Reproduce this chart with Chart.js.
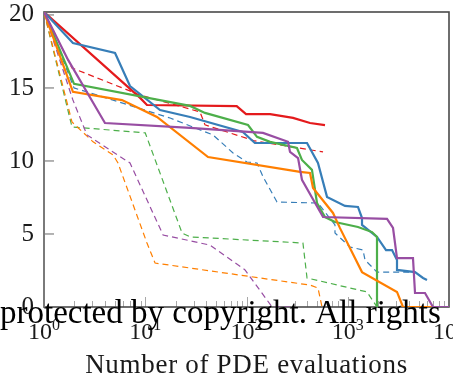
<!DOCTYPE html>
<html>
<head>
<meta charset="utf-8">
<script src="https://cdn.jsdelivr.net/npm/chart.js@4"></script>
<style>
  html, body { margin: 0; padding: 0; background: #fff; overflow: hidden; }
  canvas { display: block; }
</style>
</head>
<body>
<canvas id="c" width="453" height="376"></canvas>
<script>
// Objective value versus number of PDE evaluations (log x axis)
const yTickValues = [0, 5, 10, 15, 20];
const yTop = 20.2;
const xDecades = [1, 10, 100, 1000, 10000];
const xTitle = 'Number of PDE evaluations';
const caption = 'protected by copyright. All rights';

// solid runs
const redSolidX = [1, 8.9, 10.4, 80, 99, 171, 288, 424, 596];
const redSolidY = [20.2, 14.32, 13.83, 13.76, 13.21, 13.21, 12.95, 12.6, 12.45];

const blueSolidX = [1, 1.93, 5.03, 7.07, 14.0, 27.7, 92, 121, 396, 508, 624, 939, 1262, 1383, 1383, 1945, 2388, 2737, 3065, 3065, 4617, 5536, 6063];
const blueSolidY = [20.2, 18.08, 17.39, 15.13, 13.49, 13.01, 11.98, 11.23, 11.23, 9.86, 7.54, 6.92, 6.85, 6.09, 5.62, 4.80, 3.90, 3.90, 3.22, 2.54, 2.39, 1.99, 1.85];

const greenSolidX = [1, 1.98, 27.7, 38.9, 103.5, 127, 171, 315, 353, 443, 497, 596, 748, 1262, 1738, 1945, 1945];
const greenSolidY = [20.2, 15.28, 13.77, 13.29, 12.46, 11.65, 11.31, 10.89, 10.07, 9.39, 7.12, 6.16, 5.82, 5.48, 5.13, 4.79, 0];

const orangeSolidX = [1, 1.93, 5.89, 13.06, 41.7, 338, 424, 454, 715, 838, 1383, 3065, 3513, 6790];
const orangeSolidY = [20.2, 14.73, 14.17, 13.01, 10.27, 9.25, 9.18, 8.15, 6.44, 5.40, 2.39, 1.03, 0, 0];

const purpleSolidX = [1, 1.73, 4.0, 27.7, 145.5, 257, 269, 323, 353, 570, 2443, 2800, 3065, 4409, 4617, 5794, 6950, 10000];
const purpleSolidY = [20.2, 16.92, 12.60, 12.27, 11.92, 11.31, 10.62, 10.20, 8.71, 6.16, 6.03, 5.41, 3.35, 3.35, 0.96, 0.96, 0, 0];

// dashed runs
const redDashedX = [1, 1.89, 8.87, 34.7, 38.9, 121, 570];
const redDashedY = [20.2, 16.37, 14.52, 13.36, 12.47, 11.37, 10.62];

const blueDashedX = [1, 1.98, 2.85, 17.6, 46.7, 73.6, 101, 127, 146, 200, 508, 748, 748, 1052, 1415, 1480, 1945, 4121];
const blueDashedY = [20.2, 15.00, 14.66, 12.94, 11.78, 10.55, 9.93, 9.86, 8.90, 7.19, 7.12, 5.62, 5.07, 4.11, 3.90, 3.22, 2.39, 2.39];

const greenDashedX = [1, 1.89, 10, 23.1, 27.7, 361, 396, 1549, 1945];
const greenDashedY = [20.2, 12.33, 11.92, 5.07, 4.80, 4.38, 1.99, 1.03, 0];

const orangeDashedX = [1, 1.89, 3.05, 4.80, 5.38, 10.4, 12.5, 424, 508, 557];
const orangeDashedY = [20.2, 12.67, 11.31, 10.42, 9.86, 4.38, 3.01, 1.50, 1.30, 0];

const purpleDashedX = [1, 1.93, 2.66, 7.07, 15.0, 43.6, 96.7, 179, 269];
const purpleDashedY = [20.2, 14.17, 11.78, 9.86, 4.93, 4.24, 2.54, 0, 0];

const RED = '#e41a1c', BLUE = '#377eb8', GREEN = '#4daf4a', ORANGE = '#ff7f00', PURPLE = '#984ea3';
const SERIF = '"Liberation Serif", "Times New Roman", serif';

function pts(xs, ys) { return xs.map((v, i) => ({ x: v, y: ys[i] })); }
function solid(xs, ys, color) {
  return { data: pts(xs, ys), borderColor: color, borderWidth: 2.2, pointRadius: 0, tension: 0, fill: false };
}
function dashed(xs, ys, color) {
  return { data: pts(xs, ys), borderColor: color, borderWidth: 1.2, borderDash: [6, 4], pointRadius: 0, tension: 0, fill: false };
}

// bottom of the list is drawn first
const layers = [
  dashed(redDashedX, redDashedY, RED),
  dashed(blueDashedX, blueDashedY, BLUE),
  dashed(greenDashedX, greenDashedY, GREEN),
  dashed(orangeDashedX, orangeDashedY, ORANGE),
  dashed(purpleDashedX, purpleDashedY, PURPLE),
  solid(redSolidX, redSolidY, RED),
  solid(blueSolidX, blueSolidY, BLUE),
  solid(greenSolidX, greenSolidY, GREEN),
  solid(orangeSolidX, orangeSolidY, ORANGE),
  solid(purpleSolidX, purpleSolidY, PURPLE)
];
const datasets = layers.slice().reverse();

function seg(ctx, x1, y1, x2, y2) { ctx.beginPath(); ctx.moveTo(x1, y1); ctx.lineTo(x2, y2); ctx.stroke(); }

const axisDecor = {
  id: 'axisDecor',
  beforeDatasetsDraw(chart) {
    const { ctx, chartArea: a, scales: { x, y } } = chart;
    ctx.save();
    // x tick marks inside the plot
    ctx.strokeStyle = '#a8a8a8';
    ctx.lineWidth = 1;
    for (let d = 1; d < 10000; d *= 10) {
      for (let m = 1; m <= 9; m++) {
        const v = d * m;
        if (v === 1) continue;
        const px = Math.round(x.getPixelForValue(v)) + 0.5;
        seg(ctx, px, a.bottom, px, a.bottom - (m === 1 ? 10 : 6));
      }
    }
    // y tick marks
    ctx.strokeStyle = '#9a9a9a';
    ctx.lineWidth = 1.5;
    yTickValues.forEach(v => {
      if (v === 0) return;
      const py = y.getPixelForValue(v);
      seg(ctx, a.left, py, a.left + 10, py);
    });
    // frame
    ctx.strokeStyle = '#4a4a4a';
    ctx.lineWidth = 1.6;
    ctx.strokeRect(a.left, a.top, a.right - a.left, a.bottom - a.top);
    ctx.strokeStyle = '#7a7a7a';
    ctx.lineWidth = 2;
    seg(ctx, a.left, a.top, a.left, a.bottom);
    ctx.restore();
  },
  afterDraw(chart) {
    const { ctx, chartArea: a, scales: { x } } = chart;
    ctx.save();
    ctx.fillStyle = '#1a1a1a';
    ctx.textBaseline = 'alphabetic';
    // decade labels 10^k
    xDecades.forEach((v, k) => {
      const px = x.getPixelForValue(v);
      ctx.font = '24px ' + SERIF;
      const wb = ctx.measureText('10').width;
      ctx.font = '16px ' + SERIF;
      const we = ctx.measureText(String(k)).width;
      const left = px - (wb + we) / 2;
      ctx.font = '24px ' + SERIF;
      ctx.textAlign = 'left';
      ctx.fillText('10', left, 339);
      ctx.font = '16px ' + SERIF;
      ctx.fillText(String(k), left + wb, 330);
    });
    // axis title
    ctx.font = '27px ' + SERIF;
    ctx.letterSpacing = '0.7px';
    ctx.textAlign = 'center';
    ctx.fillText(xTitle, (a.left + a.right) / 2, 373);
    ctx.letterSpacing = '0px';
    // caption line across the bottom
    ctx.fillStyle = '#000';
    ctx.font = '33px ' + SERIF;
    ctx.textAlign = 'left';
    ctx.fillText(caption, 0, 323);
    ctx.restore();
  }
};

new Chart(document.getElementById('c'), {
  type: 'line',
  data: { datasets },
  options: {
    responsive: false,
    animation: false,
    devicePixelRatio: 1,
    layout: { padding: { top: 12, right: 4, left: 0, bottom: 0 } },
    plugins: { legend: { display: false }, tooltip: { enabled: false } },
    scales: {
      x: {
        type: 'logarithmic',
        min: 1,
        max: 10000,
        grid: { display: false, drawTicks: false },
        border: { display: false },
        ticks: { display: false },
        afterFit(scale) {
          scale.height = 69;
          scale.paddingLeft = 0; scale.paddingRight = 0;
        }
      },
      y: {
        type: 'linear',
        min: 0,
        max: yTop,
        grid: { display: false, drawTicks: false },
        border: { display: false },
        afterBuildTicks(scale) { scale.ticks = yTickValues.map(v => ({ value: v })); },
        ticks: {
          padding: 10,
          color: '#1a1a1a',
          font: { family: SERIF, size: 25, lineHeight: 1 }
        },
        afterFit(scale) {
          scale.width = 44;
          scale.paddingTop = 0; scale.paddingBottom = 0;
        }
      }
    }
  },
  plugins: [axisDecor]
});
</script>
</body>
</html>
